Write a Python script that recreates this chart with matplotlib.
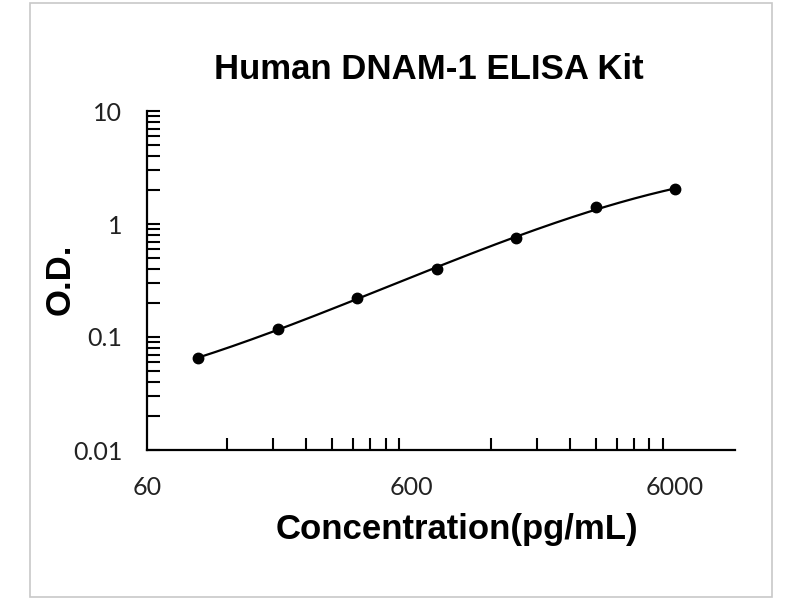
import numpy as np
import matplotlib
matplotlib.use("Agg")
import matplotlib.pyplot as plt
from matplotlib.ticker import FixedLocator, NullFormatter
from matplotlib.patches import Rectangle

# standard curve points
conc = [93.75, 187.5, 375, 750, 1500, 3000, 6000]
od = [0.065, 0.118, 0.222, 0.40, 0.75, 1.42, 2.02]

x_ticks = [60, 600, 6000]
x_tick_labels = ["60", "600", "6000"]
y_ticks = [0.01, 0.1, 1, 10]
y_tick_labels = ["0.01", "0.1", "1", "10"]

fig = plt.figure(figsize=(8, 6), dpi=100)
fig.patch.set_facecolor("white")
fig.patches.append(Rectangle((0.038, 0.005), 0.927, 0.99, transform=fig.transFigure,
                             fill=False, edgecolor="#c8c8c8", linewidth=1.2))

ax = fig.add_axes([0.184, 0.25, 0.735, 0.565])
ax.set_xscale("log")
ax.set_yscale("log")

# smooth fitted curve (cubic in log-log space)
lx = np.log10(conc)
ly = np.log10(od)
coef = np.polyfit(lx, ly, 3)
xs = np.linspace(lx[0], lx[-1], 200)
ax.plot(10 ** xs, 10 ** np.polyval(coef, xs), color="black", linewidth=1.6)
ax.plot(conc, od, "o", color="black", markersize=7.5)

ax.set_xlim(60, 10140)
ax.set_ylim(0.01, 10)

# excel-style minor ticks
x_minor = [60 * k for k in range(2, 10)] + [600 * k for k in range(2, 11)]
ax.xaxis.set_major_locator(FixedLocator(x_ticks))
ax.xaxis.set_minor_locator(FixedLocator(x_minor))
ax.set_xticklabels(x_tick_labels)
ax.xaxis.set_minor_formatter(NullFormatter())
y_minor = [d * k for d in [0.01, 0.1, 1] for k in range(2, 10)]
ax.yaxis.set_major_locator(FixedLocator(y_ticks))
ax.yaxis.set_minor_locator(FixedLocator(y_minor))
ax.set_yticklabels(y_tick_labels)
ax.yaxis.set_minor_formatter(NullFormatter())

ax.tick_params(axis="both", which="both", direction="in", width=1.5, length=9,
               labelsize=18, colors="black")
ax.tick_params(axis="y", which="major", pad=18)
ax.tick_params(axis="x", which="major", length=0, pad=19)
ax.tick_params(axis="x", which="minor", length=9)
for lbl in ax.get_xticklabels() + ax.get_yticklabels():
    lbl.set_family("Lato")
    lbl.set_color("#222222")

ax.spines["top"].set_visible(False)
ax.spines["right"].set_visible(False)
ax.spines["left"].set_linewidth(1.6)
ax.spines["bottom"].set_linewidth(1.6)

fig.text(0.536, 0.884, "Human DNAM-1 ELISA Kit", ha="center", va="center",
         fontsize=25, fontweight="bold", family="Liberation Sans")
fig.text(0.571, 0.118, "Concentration(pg/mL)", ha="center", va="center",
         fontsize=25, fontweight="bold", family="Liberation Sans")
fig.text(0.075, 0.535, "O.D.", ha="center", va="center", rotation=90,
         fontsize=25, fontweight="bold", family="Liberation Sans")

fig.savefig("out.png", dpi=100)
